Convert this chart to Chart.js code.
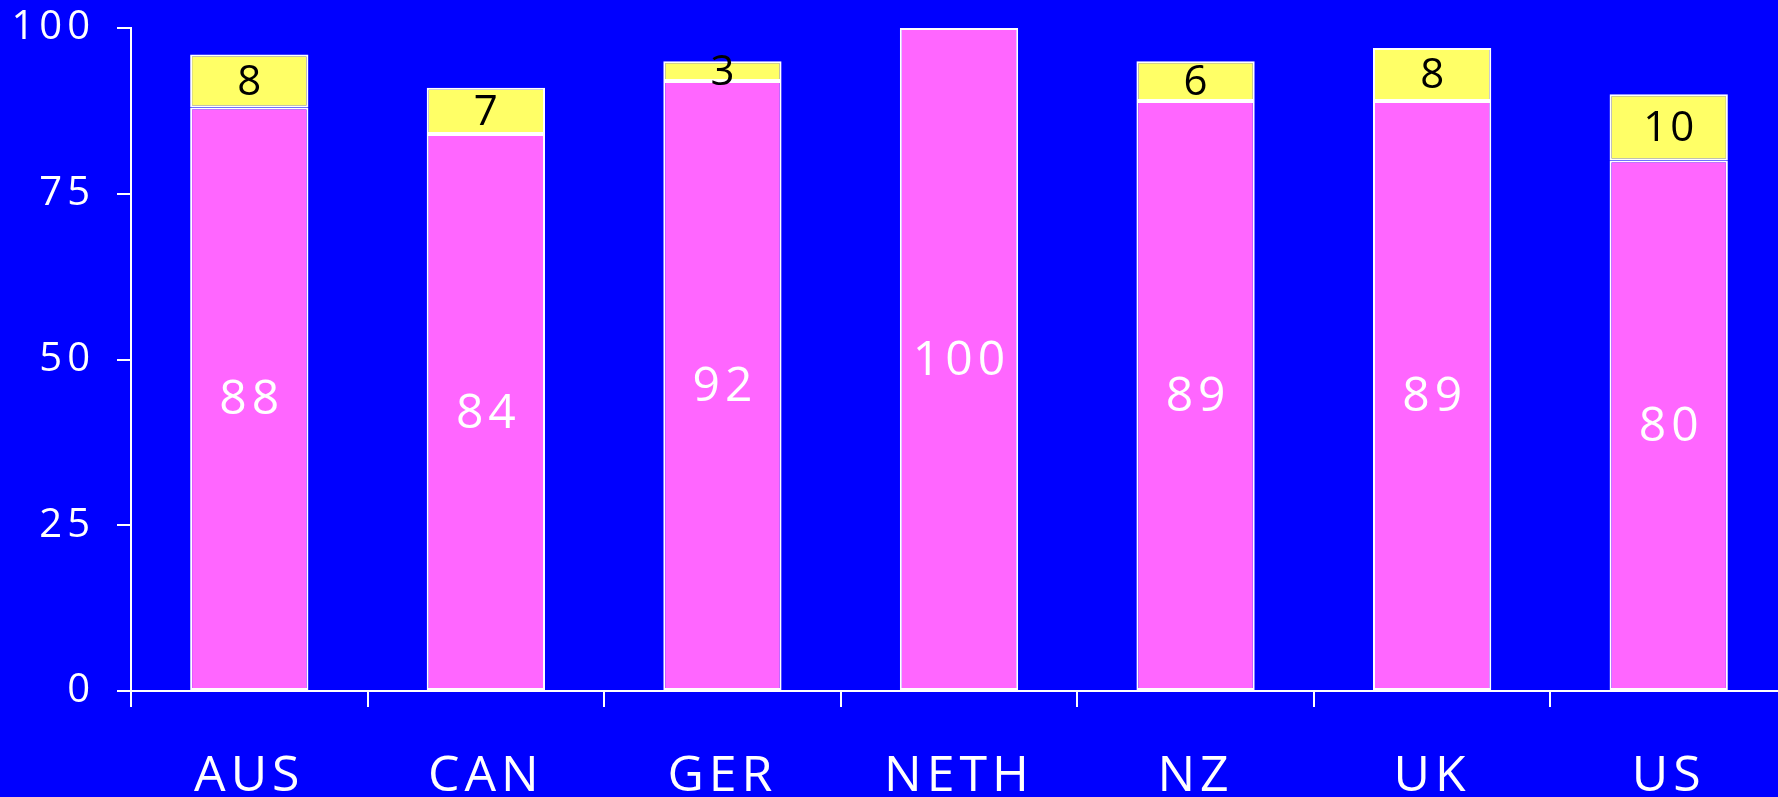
<!DOCTYPE html>
<html>
<head>
<meta charset="utf-8">
<script src="https://cdn.jsdelivr.net/npm/chart.js@4/dist/chart.umd.min.js"></script>
<style>
  html, body { margin: 0; padding: 0; background: #0000FF; overflow: hidden; }
  #wrap { position: relative; width: 1787px; height: 797px; }
</style>
</head>
<body>
<div id="wrap"><canvas id="c"></canvas></div>
<script>
const categories = ['AUS', 'CAN', 'GER', 'NETH', 'NZ', 'UK', 'US'];
const pinkValues = [88, 84, 92, 100, 89, 89, 80];
const yellowValues = [8, 7, 3, 0, 6, 8, 10];
const yTicks = [0, 25, 50, 75, 100];

const FONT = "'Open Sans', 'Noto Sans', sans-serif";

const labelPlugin = {
  id: 'segLabels',
  afterDatasetsDraw(chart) {
    const ctx = chart.ctx;
    chart.data.datasets.forEach((ds, di) => {
      const meta = chart.getDatasetMeta(di);
      meta.data.forEach((el, i) => {
        const v = ds.data[i];
        if (!v) return;
        ctx.save();
        ctx.letterSpacing = ds.labelSpacing;
        ctx.font = ds.labelFont;
        ctx.fillStyle = ds.labelColor;
        ctx.textAlign = 'center';
        ctx.textBaseline = 'middle';
        const sp = parseFloat(ds.labelSpacing) || 0;
        ctx.fillText(String(v), el.x + sp / 2, (el.y + el.base) / 2 + 2);
        ctx.restore();
      });
    });
  }
};

const spacingPlugin = {
  id: 'spacing',
  beforeDraw(chart) { chart.ctx.letterSpacing = '5px'; }
};

new Chart(document.getElementById('c'), {
  type: 'bar',
  data: {
    labels: categories,
    datasets: [
      {
        data: pinkValues,
        backgroundColor: '#FF66FF',
        borderColor: '#FFFFFF',
        borderWidth: 2,
        borderSkipped: false,
        labelColor: '#FFFFFF',
        labelFont: "400 48px " + FONT,
        labelSpacing: '5px'
      },
      {
        data: yellowValues,
        backgroundColor: '#FFFF66',
        borderColor: '#FFFFFF',
        borderWidth: 2,
        borderSkipped: false,
        labelColor: '#000000',
        labelFont: "400 42px " + FONT,
        labelSpacing: '3px'
      }
    ]
  },
  options: {
    responsive: true,
    maintainAspectRatio: false,
    animation: false,
    events: [],
    barPercentage: 0.5,
    categoryPercentage: 1.0,
    layout: { padding: { top: 28, right: 0, left: 0, bottom: 0 } },
    plugins: { legend: { display: false }, tooltip: { enabled: false } },
    scales: {
      x: {
        stacked: true,
        offset: true,
        grid: { offset: true, drawOnChartArea: false, drawTicks: true, tickLength: 16, color: '#FFFFFF', lineWidth: 2 },
        border: { display: true, color: '#FFFFFF', width: 2 },
        ticks: { color: '#FFFFFF', font: { family: FONT, size: 50, weight: 400 }, padding: 40, maxRotation: 0 },
        afterFit(scale) { scale.height = 106; scale.paddingLeft = 0; scale.paddingRight = 0; }
      },
      y: {
        stacked: true,
        min: 0,
        max: 100,
        afterBuildTicks(scale) { scale.ticks = yTicks.map(v => ({ value: v })); },
        grid: { drawOnChartArea: false, drawTicks: true, tickLength: 14, color: '#FFFFFF', lineWidth: 2 },
        border: { display: true, color: '#FFFFFF', width: 2 },
        ticks: { color: '#FFFFFF', font: { family: FONT, size: 40, weight: 400 }, padding: 22 },
        afterFit(scale) { scale.width = 131; scale.paddingTop = 0; scale.paddingBottom = 0; }
      }
    }
  },
  plugins: [spacingPlugin, labelPlugin]
});
</script>
</body>
</html>
